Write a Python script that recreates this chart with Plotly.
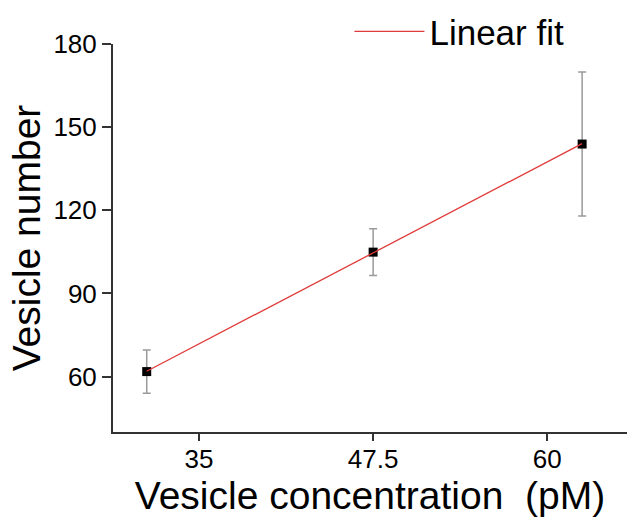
import numpy as np
import plotly.graph_objects as go

# Measured vesicle counts vs. vesicle concentration
concentration = [31.25, 47.5, 62.5]          # pM
vesicle_number = [61.8, 104.9, 143.9]
vesicle_err = [7.8, 8.4, 26.0]

x_ticks = [35, 47.5, 60]
x_ticktext = ["35", "47.5", "60"]
y_ticks = [60, 90, 120, 150, 180]

# Least-squares linear fit through the measured points
slope, intercept = np.polyfit(concentration, vesicle_number, 1)
fit_x = [concentration[0], concentration[-1]]
fit_y = [slope * v + intercept for v in fit_x]

FONT = "Liberation Sans, Arial, Helvetica, sans-serif"

fig = go.Figure()

fig.add_trace(go.Scatter(
    x=concentration, y=vesicle_number,
    mode="markers",
    marker=dict(symbol="square", size=9, color="black"),
    error_y=dict(type="data", array=vesicle_err, visible=True,
                 color="#9a9a9a", thickness=1.5, width=4),
    showlegend=False,
))

fig.add_trace(go.Scatter(
    x=fit_x, y=fit_y,
    mode="lines",
    line=dict(color="#e03a3a", width=1.3),
    name="Linear fit",
    showlegend=True,
))

fig.update_layout(
    width=627, height=518,
    margin=dict(l=113, r=0, t=44, b=86),
    paper_bgcolor="white",
    plot_bgcolor="white",
    font=dict(family=FONT, color="black"),
    legend=dict(
        x=0.46, y=1.032, xanchor="left", yanchor="middle",
        font=dict(size=35, family=FONT),
        bgcolor="rgba(0,0,0,0)",
        itemwidth=70,
    ),
)

fig.update_xaxes(
    range=[28.83, 65.72],
    tickvals=x_ticks, ticktext=x_ticktext,
    ticks="outside", ticklen=7, tickwidth=1.5, tickcolor="#333",
    showline=True, linecolor="#333", linewidth=2,
    showgrid=False, zeroline=False,
    tickfont=dict(size=26, family=FONT),
    ticklabelstandoff=-4,
    title=dict(text="Vesicle concentration  (pM)",
               font=dict(size=39, family=FONT), standoff=6),
    automargin=False,
)

fig.update_yaxes(
    range=[40, 180],
    tickvals=y_ticks,
    ticks="outside", ticklen=9, tickwidth=1.5, tickcolor="#333",
    showline=True, linecolor="#333", linewidth=2,
    showgrid=False, zeroline=False,
    tickfont=dict(size=26, family=FONT),
    title=dict(text="Vesicle number",
               font=dict(size=39, family=FONT), standoff=1),
    automargin=False,
)

fig.write_html("out.html")
